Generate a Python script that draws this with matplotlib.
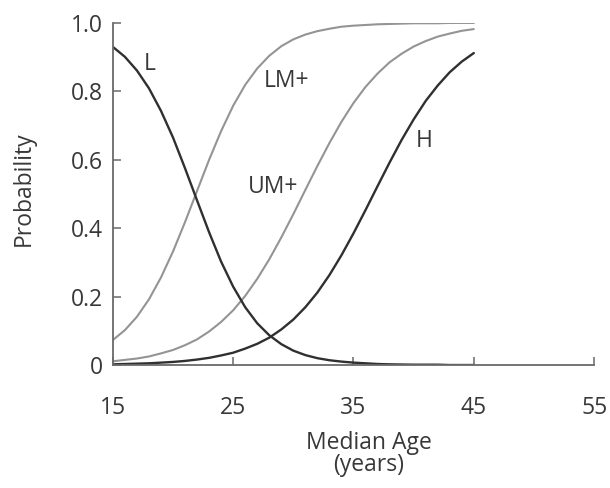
import numpy as np
import matplotlib.pyplot as plt

plt.rcParams['font.family'] = ['Open Sans', 'DejaVu Sans']

# median age (years)
age = list(range(15, 46))

# probabilities, one value per year from 15 to 45
p_L = [0.930, 0.901, 0.861, 0.809, 0.743, 0.665, 0.575, 0.481, 0.388, 0.302,
       0.229, 0.169, 0.122, 0.087, 0.061, 0.042, 0.029, 0.020, 0.014, 0.010,
       0.007, 0.005, 0.003, 0.002, 0.0015, 0.001, 0.001, 0.001, 0.0, 0.0, 0.0]
p_LM = [0.073, 0.102, 0.141, 0.192, 0.256, 0.332, 0.418, 0.509, 0.600, 0.684,
        0.758, 0.819, 0.867, 0.904, 0.932, 0.952, 0.966, 0.976, 0.983, 0.989,
        0.992, 0.994, 0.996, 0.997, 0.998, 0.999, 0.999, 0.999, 1.0, 1.0, 1.0]
p_UM = [0.011, 0.015, 0.019, 0.025, 0.034, 0.044, 0.058, 0.075, 0.098, 0.126,
        0.160, 0.202, 0.252, 0.309, 0.373, 0.441, 0.512, 0.582, 0.649, 0.711,
        0.766, 0.813, 0.852, 0.885, 0.910, 0.931, 0.947, 0.960, 0.969, 0.977,
        0.982]
p_H = [0.002, 0.003, 0.004, 0.005, 0.007, 0.009, 0.012, 0.016, 0.021, 0.028,
       0.036, 0.048, 0.062, 0.080, 0.104, 0.133, 0.169, 0.212, 0.263, 0.321,
       0.385, 0.453, 0.523, 0.592, 0.658, 0.718, 0.772, 0.817, 0.856, 0.887,
       0.912]

x_ticks = [15, 25, 35, 45, 55]
y_ticks = [0, 0.2, 0.4, 0.6, 0.8, 1.0]
y_ticklabels = ['0', '0.2', '0.4', '0.6', '0.8', '1.0']

dark = '#303030'
light = '#949494'
axis_col = '#6a6a6a'
text_col = '#383838'
fs = 16.5

fig = plt.figure(figsize=(6.1, 4.88), dpi=100)
ax = fig.add_axes([0.185, 0.252, 0.789, 0.701])

ax.plot(age, p_LM, color=light, lw=1.5, solid_capstyle='round')
ax.plot(age, p_UM, color=light, lw=1.5, solid_capstyle='round')
ax.plot(age, p_H, color=dark, lw=1.7, solid_capstyle='round')
ax.plot(age, p_L, color=dark, lw=1.7, solid_capstyle='round')

# curve labels
lbl = dict(fontsize=fs, color=text_col, ha='center', va='center')
ax.text(18.1, 0.88, 'L', **lbl)
ax.text(29.4, 0.83, 'LM+', **lbl)
ax.text(28.3, 0.52, 'UM+', **lbl)
ax.text(40.9, 0.655, 'H', **lbl)

ax.set_xlim(15, 55)
ax.set_ylim(0, 1.0)
ax.set_xticks(x_ticks)
ax.set_yticks(y_ticks)
ax.set_yticklabels(y_ticklabels)

for s in ['top', 'right']:
    ax.spines[s].set_visible(False)
for s in ['left', 'bottom']:
    ax.spines[s].set_color(axis_col)
    ax.spines[s].set_linewidth(1.3)

ax.tick_params(axis='x', direction='in', length=6, width=1.1, color=axis_col,
               pad=22, labelsize=fs, labelcolor=text_col)
ax.tick_params(axis='y', direction='in', length=6, width=1.1, color=axis_col,
               pad=7, labelsize=fs, labelcolor=text_col)

fig.text(0.605, 0.092, 'Median Age', fontsize=fs, color=text_col,
         ha='center', va='center')
fig.text(0.605, 0.047, '(years)', fontsize=fs, color=text_col,
         ha='center', va='center')
fig.text(0.039, 0.613, 'Probability', fontsize=fs, color=text_col,
         ha='center', va='center', rotation=90)

fig.savefig('out.png', dpi=100)
